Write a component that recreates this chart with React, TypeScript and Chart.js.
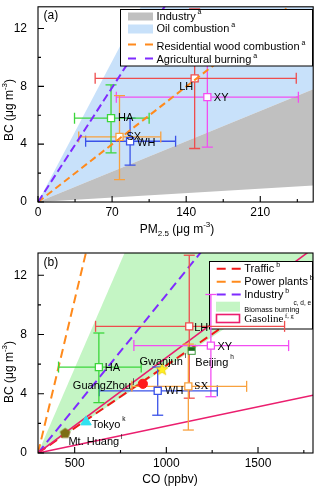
import React, { useEffect, useRef } from 'react';
import { Chart, registerables } from 'chart.js';

Chart.register(...registerables);

const SANS = '"Liberation Sans", Arial, Helvetica, sans-serif';
const SERIF = '"Liberation Serif", "Times New Roman", serif';

// ---------------- shared site data (BC, ug m-3)
const sites = ['HA', 'SX', 'WH', 'LH', 'XY'];
const siteBC = [5.8, 4.5, 4.2, 8.55, 7.25];
const siteBCLow = [3.4, 1.55, 2.55, 3.7, 3.8];
const siteBCHigh = [8.1, 7.35, 5.8, 13.35, 10.7];

// ---------------- panel (a): PM2.5
const sitePM = [69, 77, 87, 148, 160];
const sitePMLow = [34.5, 38.5, 45, 54, 74];
const sitePMHigh = [105, 116, 130, 244, 246];

const pmTicks = [0, 70, 140, 210];
const pmMinorTicks = [35, 105, 175, 245];
const bcTicks = [0, 4, 8, 12];
const bcMinorTicks = [2, 6, 10];

const industryPMRatio = [0.0044, 0.03];
const oilPMRatio = [0.03, 0.139];
const woodPMRatio = 0.057;
const agriPMRatio = 0.113;

// ---------------- panel (b): CO
const siteCO = [632, 1120, 953, 1125, 1243];
const siteCOLow = [412, 812, 634, 614, 823];
const siteCOHigh = [863, 1438, 1278, 1645, 1667];

const refNames = ['Beijing', 'Gwanjun', 'GuangZhou', 'Tokyo', 'Mt. Huang'];
const refNotes = ['h', 'i', 'j', 'k', 'l'];
const refCO = [1138, 977, 872, 562, 448];
const refBC = [6.9, 5.66, 4.67, 2.1, 1.36];

const coTicks = [500, 1000, 1500];
const coMinorTicks = [750, 1250, 1750];

const coBackground = 300;
const trafficCORatio = 0.00845;
const powerCORatio = 0.0517;
const industryCORatio = 0.01525;
const biomassCORatio = [0.00825, 0.0286];
const gasolineCORatio = [0.0026, 0.0092];

// ---------------- ranges
const PM_RANGE = [0, 260];
const CO_RANGE = [300, 1800];
const BC_RANGE = [0, 13.5];

// ---------------- styles
const siteColors = ['#3bd63b', '#f8a13e', '#3a52e8', '#ee4d4d', '#f24ef2'];
const C = {
  gray: '#c0c0c0',
  blue: '#c8e1fa',
  green: '#c4f5c4',
  orange: '#ff8a1c',
  purple: '#7f2bff',
  red: '#f01818',
  pink: '#eb1e6e',
};

// label pixel offsets relative to their marker
const aSiteLabelOffsets = [[7, 0], [7, 0], [7, 2], [-15.5, 8.5], [6.5, 1]];
const bSiteLabelOffsets = [[6, 0.6], [6, 0], [7.4, 0.3], [5, 1.3], [6.6, 1]];
const refLabelOffsets = [[3.7, 11.7], [-22.7, -7.6], [-70, 2], [5.7, 2.6], [3.3, 9.6]];

type Seg = { t: string; size: number; dy?: number; family?: string };

function drawRich(ctx: CanvasRenderingContext2D, segs: Seg[], x: number, y: number, align = 'left') {
  ctx.save();
  ctx.fillStyle = '#000';
  ctx.textBaseline = 'middle';
  ctx.textAlign = 'left';
  let w = 0;
  for (const s of segs) {
    ctx.font = `${s.size}px ${s.family || SANS}`;
    w += ctx.measureText(s.t).width;
  }
  let cx = align === 'center' ? x - w / 2 : align === 'right' ? x - w : x;
  for (const s of segs) {
    ctx.font = `${s.size}px ${s.family || SANS}`;
    ctx.fillText(s.t, cx, y + (s.dy || 0));
    cx += ctx.measureText(s.t).width;
  }
  ctx.restore();
}

function dashLine(ctx: CanvasRenderingContext2D, x0: number, x1: number, y: number, color: string, dash: number[]) {
  ctx.save();
  ctx.strokeStyle = color;
  ctx.lineWidth = 2;
  ctx.setLineDash(dash);
  ctx.beginPath();
  ctx.moveTo(x0, y);
  ctx.lineTo(x1, y);
  ctx.stroke();
  ctx.restore();
}

function ray(ratio: number, x0: number, x1: number) {
  return [{ x: x0, y: 0 }, { x: x1, y: ratio * (x1 - x0) }];
}

function regionSet(data: any[], color: string, fill: any, order: number) {
  return { data, borderColor: 'rgba(0,0,0,0)', borderWidth: 0, pointRadius: 0, backgroundColor: color, fill, order };
}

function lineSet(data: any[], color: string, width: number, dash: number[], order: number, extra: any = {}) {
  return { data, borderColor: color, borderWidth: width, borderDash: dash, pointRadius: 0, fill: false, order, ...extra };
}

function errorBarSets(xs: number[], xLo: number[], xHi: number[], ys: number[], yLo: number[], yHi: number[], order: number) {
  const out: any[] = [];
  xs.forEach((x, i) => {
    const common = {
      borderColor: siteColors[i], borderWidth: 1.3, pointStyle: 'line', pointRadius: 5.5,
      pointBorderColor: siteColors[i], pointBorderWidth: 1.3, pointBackgroundColor: siteColors[i], fill: false, order,
    };
    out.push({ ...common, data: [{ x: xLo[i], y: ys[i] }, { x: xHi[i], y: ys[i] }], pointRotation: 90 });
    out.push({ ...common, data: [{ x, y: yLo[i] }, { x, y: yHi[i] }], pointRotation: 0 });
  });
  return out;
}

function squaresSet(xs: number[], ys: number[], order: number) {
  return {
    data: xs.map((x, i) => ({ x, y: ys[i] })), showLine: false, pointStyle: 'rect', pointRadius: 5,
    pointBackgroundColor: '#fff', pointBorderColor: siteColors, pointBorderWidth: 1.3, order,
  };
}

function scaleOpts(min: number, max: number, ticks: number[], isX: boolean, size: number, padding: number) {
  return {
    type: 'linear', min, max,
    grid: { display: false, drawTicks: false },
    border: { display: false },
    ticks: { font: { family: SANS, size: 12 }, color: '#000', padding, maxRotation: 0, autoSkip: false, callback: (v: any) => String(v) },
    afterBuildTicks: (s: any) => { s.ticks = ticks.map((v) => ({ value: v })); },
    afterFit: (s: any) => {
      if (isX) s.height = size; else s.width = size;
      s.paddingTop = 0; s.paddingBottom = 0; s.paddingLeft = 0; s.paddingRight = 0;
    },
  };
}

function framePlugin(spec: any) {
  return {
    id: 'panelDeco',
    afterDatasetDraw(chart: any, args: any) {
      const ds = chart.data.datasets[args.index];
      if (ds && ds.legendAfter) spec.legend(chart.ctx);
    },
    afterDatasetsDraw(chart: any) {
      const { ctx, chartArea: a, scales } = chart;
      for (const l of spec.labels) {
        const px = scales.x.getPixelForValue(l.x) + l.dx;
        const py = scales.y.getPixelForValue(l.y) + l.dy;
        drawRich(ctx, l.segs, px, py, 'left');
      }
      ctx.save();
      ctx.strokeStyle = '#000';
      ctx.lineWidth = 1.1;
      ctx.strokeRect(a.left, a.top, a.right - a.left, a.bottom - a.top);
      ctx.beginPath();
      const tx = (vals: number[], len: number) => vals.forEach((v) => {
        const p = scales.x.getPixelForValue(v);
        ctx.moveTo(p, a.bottom); ctx.lineTo(p, a.bottom - len);
      });
      const ty = (vals: number[], len: number) => vals.forEach((v) => {
        const p = scales.y.getPixelForValue(v);
        ctx.moveTo(a.left, p); ctx.lineTo(a.left + len, p);
      });
      tx(spec.xMajor, 6); tx(spec.xMinor, 3); ty(spec.yMajor, 6); ty(spec.yMinor, 3);
      ctx.stroke();
      ctx.restore();
      drawRich(ctx, [{ t: spec.tag, size: 12 }], a.left + 5.5, a.top + spec.tagDy, 'left');
      if (spec.legendOnTop) spec.legend(ctx);
    },
    afterDraw(chart: any) {
      spec.titles(chart.ctx);
    },
  };
}

function baseOptions(xMin: number, xMax: number, xTicks: number[], padTop: number, xAxisH: number) {
  return {
    responsive: false,
    animation: false,
    events: [],
    layout: { padding: { top: padTop, right: 4, left: 0, bottom: 0 } },
    plugins: { legend: { display: false }, tooltip: { enabled: false } },
    elements: { line: { tension: 0 } },
    scales: {
      x: scaleOpts(xMin, xMax, xTicks, true, xAxisH, 3),
      y: scaleOpts(BC_RANGE[0], BC_RANGE[1], bcTicks, false, 38, 11),
    },
  };
}

function legendA(ctx: CanvasRenderingContext2D) {
  ctx.save();
  ctx.fillStyle = '#fff';
  ctx.fillRect(120.5, 9.5, 192, 56.5);
  ctx.strokeStyle = '#000';
  ctx.lineWidth = 1;
  ctx.strokeRect(120.5, 9.5, 192, 56.5);
  ctx.fillStyle = C.gray;
  ctx.fillRect(128, 12.5, 25, 8);
  ctx.fillStyle = C.blue;
  ctx.fillRect(128, 24.5, 25, 9);
  ctx.restore();
  dashLine(ctx, 128, 153, 44.5, C.orange, [8, 9]);
  dashLine(ctx, 128, 153, 58.5, C.purple, [8, 9]);
  const sup = (t: string): Seg[] => [{ t, size: 11 }, { t: ' a', size: 7, dy: -4 }];
  drawRich(ctx, sup('Industry'), 156.5, 16.5);
  drawRich(ctx, sup('Oil combustion'), 156.5, 28.8);
  drawRich(ctx, sup('Residential wood combustion'), 156.5, 46.7);
  drawRich(ctx, sup('Agricultural burning'), 156.5, 60.2);
}

function legendB(ctx: CanvasRenderingContext2D) {
  ctx.save();
  ctx.fillStyle = '#fff';
  ctx.fillRect(209.5, 21.5, 103, 67.5);
  ctx.strokeStyle = '#000';
  ctx.lineWidth = 1;
  ctx.strokeRect(209.5, 21.5, 103, 67.5);
  ctx.fillStyle = C.green;
  ctx.fillRect(216, 61.7, 24, 10);
  ctx.strokeStyle = C.pink;
  ctx.lineWidth = 1.6;
  ctx.strokeRect(216.5, 74.5, 23, 8);
  ctx.restore();
  dashLine(ctx, 216.7, 241, 28.7, C.red, [9, 6]);
  dashLine(ctx, 216.7, 241, 41.7, C.orange, [9, 6]);
  dashLine(ctx, 216.7, 241, 54.5, C.purple, [9, 6]);
  const sup = (t: string): Seg[] => [{ t, size: 11 }, { t: ' b', size: 7, dy: -4 }];
  drawRich(ctx, sup('Traffic'), 244.3, 29.3);
  drawRich(ctx, sup('Power plants'), 244.3, 42.3);
  drawRich(ctx, sup('Industry'), 244.3, 55);
  drawRich(ctx, [{ t: 'Biomass burning', size: 7.4 }], 244.3, 70);
  drawRich(ctx, [{ t: 'c, d, e', size: 6.5 }], 293.5, 63.5);
  drawRich(ctx, [{ t: 'Gasoline', size: 11, family: SERIF }, { t: ' f, g', size: 6.5, dy: -3, family: SERIF }], 244.3, 79.3);
}

function bcTitle(ctx: CanvasRenderingContext2D, cx: number, cy: number) {
  ctx.save();
  ctx.translate(cx, cy);
  ctx.rotate(-Math.PI / 2);
  drawRich(ctx, [{ t: 'BC (\u03bcg m', size: 12 }, { t: '-3', size: 8, dy: -5 }, { t: ')', size: 12 }], 0, 0, 'center');
  ctx.restore();
}

function buildA() {
  const datasets: any[] = [
    regionSet(ray(oilPMRatio[1], PM_RANGE[0], PM_RANGE[1]), C.blue, 1, 100),
    regionSet(ray(oilPMRatio[0], PM_RANGE[0], PM_RANGE[1]), C.blue, false, 101),
    regionSet(ray(industryPMRatio[1], PM_RANGE[0], PM_RANGE[1]), C.gray, 3, 90),
    regionSet(ray(industryPMRatio[0], PM_RANGE[0], PM_RANGE[1]), C.gray, false, 91),
    ...errorBarSets(sitePM, sitePMLow, sitePMHigh, siteBC, siteBCLow, siteBCHigh, 30),
    squaresSet(sitePM, siteBC, 20),
    lineSet(ray(woodPMRatio, PM_RANGE[0], PM_RANGE[1]), C.orange, 2, [7, 4], 12),
    lineSet(ray(agriPMRatio, PM_RANGE[0], PM_RANGE[1]), C.purple, 2, [8, 4], 11),
  ];
  const labels = sites.map((s, i) => ({
    x: sitePM[i], y: siteBC[i], dx: aSiteLabelOffsets[i][0], dy: aSiteLabelOffsets[i][1],
    segs: [{ t: s, size: 11 }],
  }));
  const spec = {
    xMajor: pmTicks, xMinor: pmMinorTicks, yMajor: bcTicks, yMinor: bcMinorTicks,
    labels, legend: legendA, legendOnTop: true, tag: '(a)', tagDy: 8.7,
    titles: (ctx: CanvasRenderingContext2D) => {
      drawRich(ctx, [
        { t: 'PM', size: 12 }, { t: '2.5', size: 8, dy: 4 }, { t: ' (\u03bcg m', size: 12 },
        { t: '-3', size: 8, dy: -5 }, { t: ')', size: 12 },
      ], 177, 230, 'center');
      bcTitle(ctx, 10, 110);
    },
  };
  return {
    type: 'line',
    data: { datasets },
    options: baseOptions(PM_RANGE[0], PM_RANGE[1], pmTicks, 3, 38),
    plugins: [framePlugin(spec)],
  } as any;
}

function makeImage(draw: (g: CanvasRenderingContext2D, size: number) => void, size: number) {
  const c = document.createElement('canvas');
  c.width = size;
  c.height = size;
  const g = c.getContext('2d')!;
  draw(g, size);
  return c;
}

function polygonPath(g: CanvasRenderingContext2D, cx: number, cy: number, n: number, rOut: number, rIn?: number) {
  const pts = rIn ? n * 2 : n;
  g.beginPath();
  for (let k = 0; k < pts; k++) {
    const r = rIn && k % 2 ? rIn : rOut;
    const ang = -Math.PI / 2 + (k * Math.PI * 2) / pts;
    const px = cx + r * Math.cos(ang);
    const py = cy + r * Math.sin(ang);
    if (k === 0) g.moveTo(px, py); else g.lineTo(px, py);
  }
  g.closePath();
}

function buildB() {
  const star = makeImage((g, s) => {
    polygonPath(g, s / 2, s / 2 + 0.5, 5, 6.3, 2.7);
    g.fillStyle = '#ffee22';
    g.fill();
    g.strokeStyle = '#e2c400';
    g.lineWidth = 0.6;
    g.stroke();
  }, 14);
  const pentagon = makeImage((g, s) => {
    polygonPath(g, s / 2, s / 2 + 0.5, 5, 5.6);
    g.fillStyle = '#7d6e14';
    g.fill();
  }, 13);
  const halfSquare = makeImage((g) => {
    g.fillStyle = '#fff';
    g.fillRect(1, 1, 8, 8);
    g.fillStyle = '#1c6b1c';
    g.fillRect(1, 1, 8, 4);
    g.strokeStyle = '#3a983a';
    g.lineWidth = 1;
    g.strokeRect(1.5, 1.5, 7, 7);
  }, 10);

  const x0 = coBackground;
  const x1 = CO_RANGE[1];
  const datasets: any[] = [
    regionSet(ray(biomassCORatio[1], x0, x1), C.green, 1, 100),
    regionSet(ray(biomassCORatio[0], x0, x1), C.green, false, 101),
    lineSet(ray(powerCORatio, x0, x1), C.orange, 2, [9, 5], 70),
    lineSet(ray(industryCORatio, x0, x1), C.purple, 2, [9, 5], 69),
    lineSet(ray(trafficCORatio, x0, x1), C.red, 2, [9, 5], 68),
    lineSet(ray(gasolineCORatio[1], x0, x1), C.pink, 1.6, [], 67),
    lineSet(ray(gasolineCORatio[0], x0, x1), C.pink, 1.6, [], 66, { legendAfter: true }),
    ...errorBarSets(siteCO, siteCOLow, siteCOHigh, siteBC, siteBCLow, siteBCHigh, 30),
    squaresSet(siteCO, siteBC, 20),
    {
      data: refCO.map((x, i) => ({ x, y: refBC[i] })),
      showLine: false,
      pointStyle: [halfSquare, star, 'circle', 'triangle', pentagon],
      pointRadius: [5, 6, 4.6, 6, 6],
      pointBackgroundColor: ['#fff', '#ff0', '#ff1a1a', '#30e2f0', '#7d6e14'],
      pointBorderColor: ['#3a983a', '#ff0', '#ff1a1a', '#30e2f0', '#7d6e14'],
      pointBorderWidth: 1,
      order: 10,
    },
  ];
  const labels: any[] = sites.map((s, i) => ({
    x: siteCO[i], y: siteBC[i], dx: bSiteLabelOffsets[i][0], dy: bSiteLabelOffsets[i][1],
    segs: [{ t: s, size: 11, family: s === 'SX' ? SERIF : SANS }],
  }));
  refNames.forEach((n, i) => {
    labels.push({
      x: refCO[i], y: refBC[i], dx: refLabelOffsets[i][0], dy: refLabelOffsets[i][1],
      segs: [{ t: n, size: 11 }, { t: ' ' + refNotes[i], size: 6.5, dy: -5 }],
    });
  });
  const spec = {
    xMajor: coTicks, xMinor: coMinorTicks, yMajor: bcTicks, yMinor: bcMinorTicks,
    labels, legend: legendB, legendOnTop: false, tag: '(b)', tagDy: 10,
    titles: (ctx: CanvasRenderingContext2D) => {
      drawRich(ctx, [{ t: 'CO (ppbv)', size: 12 }], 170, 239.3, 'center');
      bcTitle(ctx, 10, 132);
    },
  };
  return {
    type: 'line',
    data: { datasets },
    options: baseOptions(CO_RANGE[0], CO_RANGE[1], coTicks, 13, 35),
    plugins: [framePlugin(spec)],
  } as any;
}

function Panel({ build, height }: { build: () => any; height: number }) {
  const ref = useRef<HTMLCanvasElement>(null);
  useEffect(() => {
    const chart = new Chart(ref.current as HTMLCanvasElement, build());
    return () => chart.destroy();
  }, []);
  return <canvas ref={ref} width={320} height={height} style={{ display: 'block', width: 320, height }} />;
}

export default function App() {
  return (
    <div style={{ position: 'absolute', left: 0, top: 0, width: 320, height: 488, background: '#fff' }}>
      <Panel build={buildA} height={240} />
      <Panel build={buildB} height={248} />
    </div>
  );
}
